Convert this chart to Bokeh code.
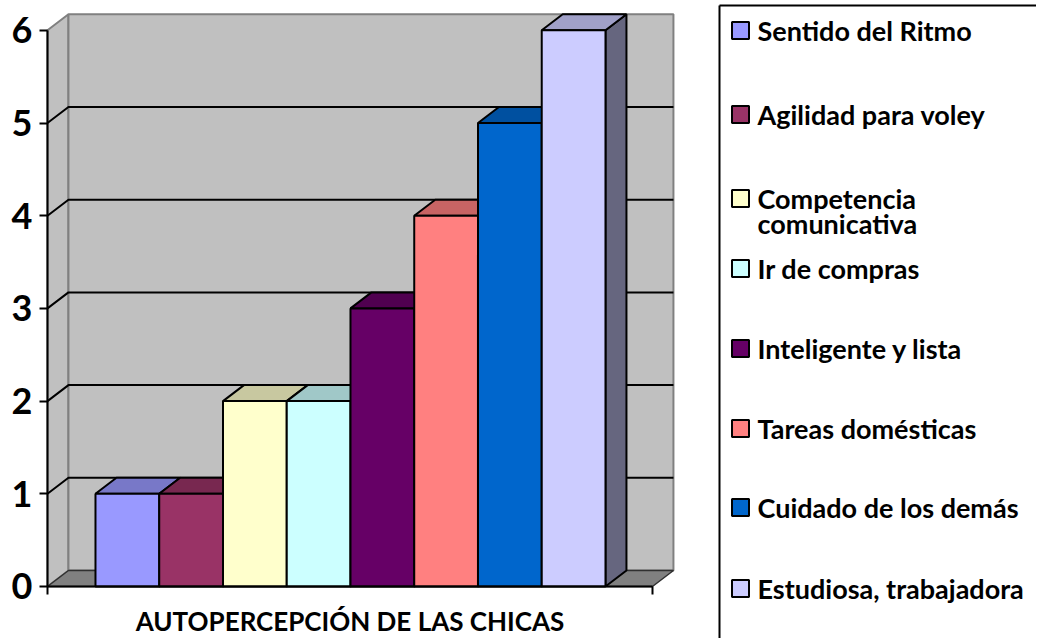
from bokeh.plotting import figure
from bokeh.layouts import row
from bokeh.models import Range1d, FixedTicker, CustomJSTickFormatter
from bokeh.core.properties import value
from bokeh.embed import file_html
from bokeh.resources import INLINE

# ---- data ----
categories = ["Sentido del Ritmo", "Agilidad para voley", "Competencia comunicativa",
              "Ir de compras", "Inteligente y lista", "Tareas domésticas",
              "Cuidado de los demás", "Estudiosa, trabajadora"]
values = [1, 1, 2, 2, 3, 4, 5, 6]
colors = ["#9999FF", "#993366", "#FFFFCC", "#CCFFFF", "#660066", "#FF8080", "#0066CC", "#CCCCFF"]
y_ticks = [0, 1, 2, 3, 4, 5, 6]
x_title = "AUTOPERCEPCIÓN DE LAS CHICAS"

# ---- layout / style ----
FONT = "Lato"
X_LO, X_HI = -0.753, 8.737      # front floor edge in bar units
DX, DY = 0.329, 0.1726          # 3D depth offset (x in bar units, y in value units)
Y_MAX = y_ticks[-1]
WALL = "#C0C0C0"
EDGE = "#808080"


def shade(hx, f):
    hx = hx.lstrip("#")
    r, g, b = (int(hx[i:i + 2], 16) for i in (0, 2, 4))
    return "#%02X%02X%02X" % (int(r * f), int(g * f), int(b * f))


p = figure(width=708, height=638, x_range=Range1d(-1.490, 9.616), y_range=Range1d(-0.561, 6.3215),
           output_backend="svg", toolbar_location=None, min_border=0)
p.xgrid.visible = False
p.ygrid.visible = False
p.outline_line_color = None
p.background_fill_color = "white"
p.border_fill_color = "white"

# walls
p.patch([X_LO, X_LO + DX, X_LO + DX, X_LO], [0, DY, Y_MAX + DY, Y_MAX],
        fill_color=WALL, line_color=EDGE, line_width=2)
p.quad(left=[X_LO + DX], right=[X_HI + DX], bottom=[DY], top=[Y_MAX + DY],
       fill_color=WALL, line_color=EDGE, line_width=2)
# floor
p.patch([X_LO, X_HI, X_HI + DX, X_LO + DX], [0, 0, DY, DY],
        fill_color="#808080", line_color="#303030", line_width=1.5)

# gridlines (side wall diagonal + back wall horizontal)
gx, gy = [], []
for t in y_ticks[1:-1]:
    gx.append([X_LO, X_LO + DX, X_HI + DX])
    gy.append([t, t + DY, t + DY])
p.multi_line(gx, gy, line_color="black", line_width=2)

# bars: sides, tops, fronts
n = len(values)
side_x = [[i + 1, i + 1 + DX, i + 1 + DX, i + 1] for i in range(n)]
side_y = [[0, DY, v + DY, v] for v in values]
top_x = [[i, i + 1, i + 1 + DX, i + DX] for i in range(n)]
top_y = [[v, v, v + DY, v + DY] for v in values]
p.patches(side_x, side_y, fill_color=[shade(c, 0.5) for c in colors],
          line_color="black", line_width=2)
p.patches(top_x, top_y, fill_color=[shade(c, 0.785) for c in colors],
          line_color="black", line_width=2)
p.vbar(x=[i + 0.5 for i in range(n)], width=1, bottom=0, top=values,
       fill_color=colors, line_color="black", line_width=2)

# y axis at the front-left edge
yax = p.yaxis[0]
yax.fixed_location = X_LO
yax.ticker = FixedTicker(ticks=y_ticks)
yax.bounds = (0, Y_MAX)
yax.axis_line_width = 2
yax.axis_line_color = "black"
yax.major_tick_line_width = 2
yax.major_tick_out = 8
yax.major_tick_in = 0
yax.minor_tick_out = 0
yax.minor_tick_in = 0
yax.major_label_standoff = 7
yax.major_label_text_font = FONT
yax.major_label_text_font_style = "bold"
yax.major_label_text_font_size = "36px"
yax.major_label_text_color = "black"

# x axis along the front floor edge
xax = p.xaxis[0]
xax.fixed_location = 0
xax.ticker = FixedTicker(ticks=[X_LO, X_HI])
xax.bounds = (X_LO, X_HI)
xax.formatter = CustomJSTickFormatter(code="return ''")
xax.major_label_text_font_size = "0px"
xax.major_label_standoff = 0
xax.axis_line_width = 2
xax.axis_line_color = "black"
xax.major_tick_line_width = 2
xax.major_tick_out = 8
xax.major_tick_in = 0
xax.minor_tick_out = 0
xax.minor_tick_in = 0

# category-axis title under the floor
p.text(x=[(X_LO + X_HI) / 2], y=[-0.367], text=[x_title], text_font=value(FONT),
       text_font_style="bold", text_font_size="26px", text_align="center",
       text_baseline="middle", text_color="black")

# ---- legend panel ----
lg = figure(width=328, height=638, x_range=Range1d(0, 328), y_range=Range1d(638, 0),
            output_backend="svg", toolbar_location=None, min_border=0,
            x_axis_type=None, y_axis_type=None)
lg.outline_line_color = None
lg.background_fill_color = "white"
lg.border_fill_color = "white"
lg.xgrid.visible = False
lg.ygrid.visible = False

lg.segment(x0=[11, 11], y0=[5, 5], x1=[328, 11], y1=[5, 638], line_color="black", line_width=2)
sq_y = [30, 114, 198, 268, 348, 428, 507, 588]
txt_y = [30, 114, 210.5, 268, 348, 428, 507, 588]
labels = [c.replace("Competencia ", "Competencia\n") for c in categories]
lg.rect(x=[32] * n, y=sq_y, width=17, height=17, fill_color=colors,
        line_color="black", line_width=2)
lg.text(x=[49] * n, y=txt_y, text=labels, text_font=value(FONT), text_font_style="bold",
        text_font_size="27px", text_baseline="middle", text_align="left",
        text_line_height=0.77, text_color="black")

layout = row(p, lg)
open("out.html", "w").write(file_html(layout, INLINE))
